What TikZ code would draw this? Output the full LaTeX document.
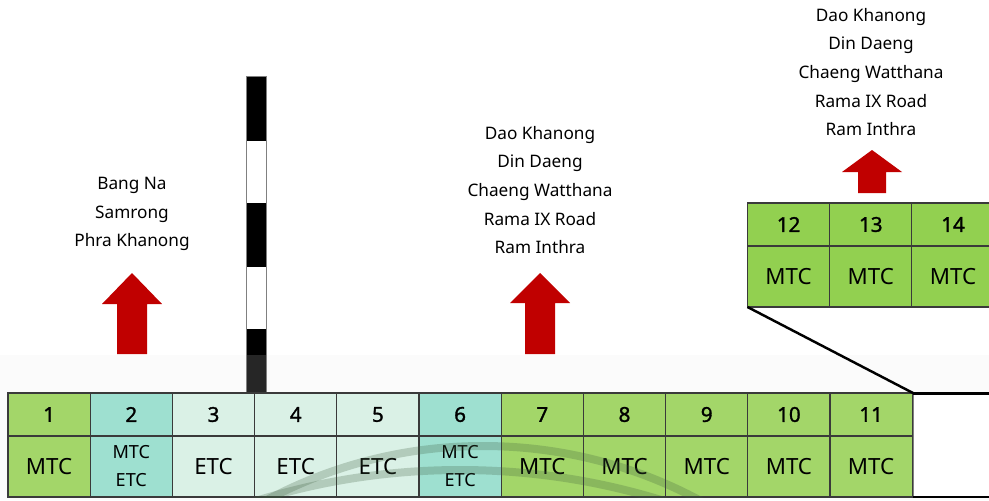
\documentclass[tikz,border=0pt]{standalone}
\usepackage{fontspec}
\setmainfont{Noto Sans}
\newfontfamily\numeros{Noto Sans}[FakeBold=1.4]
\usepackage{tikz}
\definecolor{verdeMTC}{HTML}{A3D669}
\definecolor{verdeAlto}{HTML}{92D050}
\definecolor{turquesa}{HTML}{9EE0D0}
\definecolor{mentaETC}{HTML}{DAF1E6}
\definecolor{rojoF}{HTML}{C00000}
\definecolor{grisL}{HTML}{3A3A3A}
\definecolor{grisFondo}{HTML}{FBFBFB}
\definecolor{negroT}{HTML}{262626}
\definecolor{arcoT}{HTML}{3D5C3D}

\begin{document}
\begin{tikzpicture}[x=0.02cm,y=-0.02cm,
    celda/.style={draw=grisL,line width=0.6pt,minimum width=1.645cm,inner sep=0pt,outer sep=0pt},
    cabeza/.style={celda,minimum height=0.86cm,font=\fontsize{11.7}{14}\selectfont\numeros},
    carril/.style={celda,minimum height=1.22cm,font=\fontsize{12.7}{15}\selectfont},
    doble/.style={carril,align=center,font=\fontsize{10.3}{15.9}\selectfont},
    estacion/.style={align=center,font=\fontsize{9.8}{16.3}\selectfont}]
          \useasboundingbox (0,0) rectangle (989,500);
          \fill[white] (0,0) rectangle (989,500);
          \fill[grisFondo] (0,355) rectangle (989,500);
          % poste
          \fill[black] (246,76) rectangle (266,141);
          \fill[black] (246,203) rectangle (266,267);
          \fill[black] (246,329) rectangle (266,355);
          \fill[negroT] (246,355) rectangle (266,393);
          \draw[gray,line width=0.4pt] (246,76) rectangle (266,393);
          % flechas
          \fill[rojoF] (117,354) -- (117,304) -- (102,304) -- (132,273) -- (162,304) -- (147,304) -- (147,354) -- cycle;
          \fill[rojoF] (525,354) -- (525,303) -- (510,303) -- (540,273) -- (570,303) -- (555,303) -- (555,354) -- cycle;
          \fill[rojoF] (858,193) -- (858,172) -- (842,172) -- (872,150) -- (902,172) -- (886,172) -- (886,193) -- cycle;
          \node[estacion] (sur) at (132,214) {Bang Na\\Samrong\\Phra Khanong};
          \node[estacion] (centro) at (540,190) {Dao Khanong\\Din Daeng\\Chaeng Watthana\\Rama IX Road\\Ram Inthra};
          \node[estacion] (norte) at (871,72) {Dao Khanong\\Din Daeng\\Chaeng Watthana\\Rama IX Road\\Ram Inthra};
          % carriles
          \node[cabeza,fill=verdeMTC] (h1) at (49.1,414.5) {1};
          \node[cabeza,fill=turquesa] (h2) at (131.3,414.5) {2};
          \node[cabeza,fill=mentaETC] (h3) at (213.5,414.5) {3};
          \node[cabeza,fill=mentaETC] (h4) at (295.7,414.5) {4};
          \node[cabeza,fill=mentaETC] (h5) at (377.9,414.5) {5};
          \node[cabeza,fill=turquesa] (h6) at (460.1,414.5) {6};
          \node[cabeza,fill=verdeMTC] (h7) at (542.3,414.5) {7};
          \node[cabeza,fill=verdeMTC] (h8) at (624.5,414.5) {8};
          \node[cabeza,fill=verdeMTC] (h9) at (706.7,414.5) {9};
          \node[cabeza,fill=verdeMTC] (h10) at (788.9,414.5) {10};
          \node[cabeza,fill=verdeMTC] (h11) at (871.1,414.5) {11};
          \node[carril,fill=verdeMTC] (m1) at (49.1,466.5) {MTC};
          \node[doble,fill=turquesa] (m2) at (131.3,466.5) {MTC\\ETC};
          \node[carril,fill=mentaETC] (m3) at (213.5,466.5) {ETC};
          \node[carril,fill=mentaETC] (m4) at (295.7,466.5) {ETC};
          \node[carril,fill=mentaETC] (m5) at (377.9,466.5) {ETC};
          \node[doble,fill=turquesa] (m6) at (460.1,466.5) {MTC\\ETC};
          \node[carril,fill=verdeMTC] (m7) at (542.3,466.5) {MTC};
          \node[carril,fill=verdeMTC] (m8) at (624.5,466.5) {MTC};
          \node[carril,fill=verdeMTC] (m9) at (706.7,466.5) {MTC};
          \node[carril,fill=verdeMTC] (m10) at (788.9,466.5) {MTC};
          \node[carril,fill=verdeMTC] (m11) at (871.1,466.5) {MTC};
          % arcos de fondo
          \begin{scope}
            \clip (8,393) rectangle (912,497);
            \draw[arcoT,opacity=0.25,line width=0.16cm] (483,905) circle[radius=459];
            \draw[arcoT,opacity=0.25,line width=0.16cm] (460,1155) circle[radius=685];
          \end{scope}
          % zona ampliada
          \node[draw=gray,line width=0.5pt,fill=white,minimum width=1.72cm,minimum height=2.08cm,inner sep=0pt,outer sep=0pt] (zona) at (956,445) {};
          \draw[black,line width=1.7pt] (zona.north west) -- (zona.north east);
          \draw[black,line width=1.7pt] (zona.south west) -- (zona.south east);
          \node[cabeza,fill=verdeAlto] (h12) at (788.6,224.5) {12};
          \node[cabeza,fill=verdeAlto] (h13) at (870.8,224.5) {13};
          \node[cabeza,fill=verdeAlto] (h14) at (953,224.5) {14};
          \node[carril,fill=verdeAlto] (m12) at (788.6,276.5) {MTC};
          \node[carril,fill=verdeAlto] (m13) at (870.8,276.5) {MTC};
          \node[carril,fill=verdeAlto] (m14) at (953,276.5) {MTC};
          \draw[black,line width=1.4pt] (m12.south west) -- (zona.north west);
        \end{tikzpicture}
\end{document}
